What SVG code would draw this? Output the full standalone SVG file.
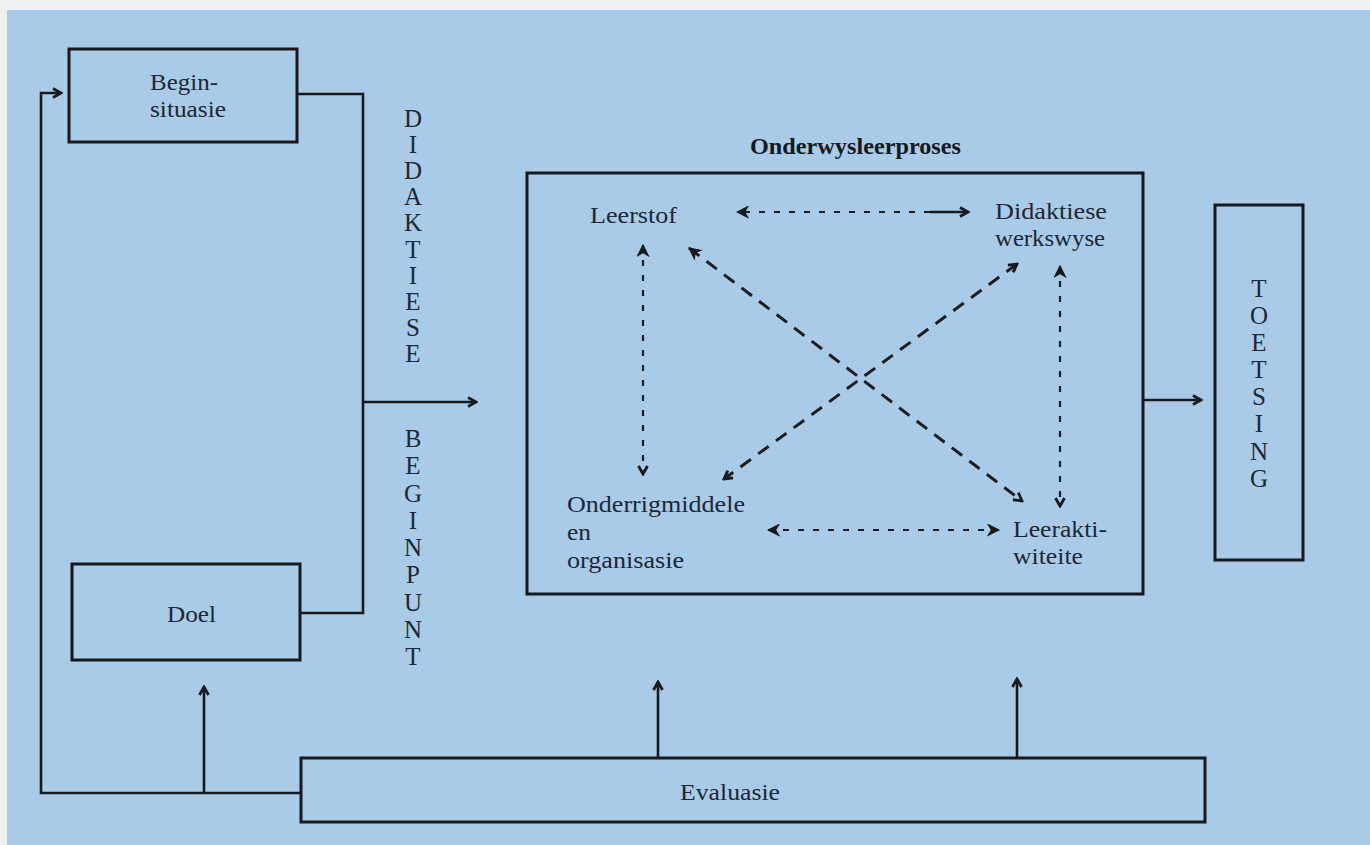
<svg xmlns="http://www.w3.org/2000/svg" width="1370" height="845" viewBox="0 0 1370 845">
<style>
.bg{fill:#a9cbe7}
.box{fill:none;stroke:#16191d;stroke-width:3}
.ln{fill:none;stroke:#16191d;stroke-width:2.6}
.dot{fill:none;stroke:#1a1d22;stroke-width:2.2;stroke-dasharray:6 9}
.dash{fill:none;stroke:#1a1d22;stroke-width:3;stroke-dasharray:13 9}
.t{font-family:"Liberation Serif","Times New Roman",serif;font-size:24px;fill:#1c2836}
.v{font-family:"Liberation Serif","Times New Roman",serif;font-size:25px;fill:#1c2836;text-anchor:middle}
.b{font-family:"Liberation Serif","Times New Roman",serif;font-size:23px;font-weight:bold;fill:#14191f}
</style>
<defs>
<marker id="ah" viewBox="0 0 12 12" refX="10" refY="6" markerWidth="12" markerHeight="12" markerUnits="userSpaceOnUse" orient="auto-start-reverse">
<path d="M2,1.5 L10,6 L2,10.5" fill="none" stroke="#16191d" stroke-width="2.8" stroke-dasharray="none" stroke-linejoin="miter"/>
</marker>
<marker id="fh" viewBox="0 0 12 12" refX="11" refY="6" markerWidth="13" markerHeight="13" markerUnits="userSpaceOnUse" orient="auto-start-reverse">
<path d="M1,1 L11,6 L1,11 L4,6 z" fill="#16191d" stroke="#16191d" stroke-width="1" stroke-dasharray="none"/>
</marker>
</defs>
<rect x="0" y="0" width="1370" height="845" fill="#eef1ef"/>
<rect class="bg" x="7" y="10" width="1363" height="835"/>

<g id="connectors">
<path class="ln" d="M297,94 H363 V613 H300"/>
<path class="ln" d="M363,402 H476" marker-end="url(#ah)"/>
<path class="ln" d="M301,793 H41 V93 H61" marker-end="url(#ah)"/>
<path class="ln" d="M204,793 V687" marker-end="url(#ah)"/>
<path class="ln" d="M658,758 V682" marker-end="url(#ah)"/>
<path class="ln" d="M1017,758 V679" marker-end="url(#ah)"/>
<path class="ln" d="M1143,400 H1201" marker-end="url(#ah)"/>
<path class="dot" d="M930,212 H737" marker-end="url(#fh)"/>
<path class="ln" d="M930,212 H968" marker-end="url(#ah)"/>
<path class="dot" d="M643,245 V474" marker-start="url(#fh)" marker-end="url(#ah)"/>
<path class="dot" d="M1060,266 V506" marker-start="url(#fh)" marker-end="url(#ah)"/>
<path class="dash" d="M689,248 L1022,501" marker-start="url(#fh)" marker-end="url(#ah)"/>
<path class="dash" d="M1017,264 L724,479" marker-start="url(#ah)" marker-end="url(#ah)"/>
<path class="dot" d="M768,530 H999" marker-start="url(#fh)" marker-end="url(#fh)"/>
</g>

<g id="beginsituasie">
<rect class="box" x="69" y="49" width="228" height="93"/>
<text class="t" x="150" y="90" textLength="68" lengthAdjust="spacingAndGlyphs">Begin-</text>
<text class="t" x="150" y="117" textLength="76" lengthAdjust="spacingAndGlyphs">situasie</text>
</g>

<g id="doel">
<rect class="box" x="72" y="564" width="228" height="96"/>
<text class="t" x="167" y="622" textLength="49" lengthAdjust="spacingAndGlyphs">Doel</text>
</g>

<g id="didaktiese-beginpunt">
<text class="v" x="413" y="127">D</text>
<text class="v" x="413" y="153">I</text>
<text class="v" x="413" y="179">D</text>
<text class="v" x="413" y="205">A</text>
<text class="v" x="413" y="231">K</text>
<text class="v" x="413" y="258">T</text>
<text class="v" x="413" y="284">I</text>
<text class="v" x="413" y="310">E</text>
<text class="v" x="413" y="336">S</text>
<text class="v" x="413" y="362">E</text>
<text class="v" x="413" y="447">B</text>
<text class="v" x="413" y="474">E</text>
<text class="v" x="413" y="502">G</text>
<text class="v" x="413" y="529">I</text>
<text class="v" x="413" y="556">N</text>
<text class="v" x="413" y="583">P</text>
<text class="v" x="413" y="611">U</text>
<text class="v" x="413" y="638">N</text>
<text class="v" x="413" y="665">T</text>
</g>

<g id="onderwysleerproses">
<text class="b" x="750" y="154" textLength="211" lengthAdjust="spacingAndGlyphs">Onderwysleerproses</text>
<rect class="box" x="527" y="173" width="616" height="421"/>
</g>

<g id="leerstof">
<text class="t" x="590" y="223" textLength="87" lengthAdjust="spacingAndGlyphs">Leerstof</text>
</g>

<g id="didaktiese-werkswyse">
<text class="t" x="995" y="219" textLength="112" lengthAdjust="spacingAndGlyphs">Didaktiese</text>
<text class="t" x="995" y="246" textLength="110" lengthAdjust="spacingAndGlyphs">werkswyse</text>
</g>

<g id="onderrigmiddele">
<text class="t" x="567" y="512" textLength="178" lengthAdjust="spacingAndGlyphs">Onderrigmiddele</text>
<text class="t" x="567" y="540" textLength="24" lengthAdjust="spacingAndGlyphs">en</text>
<text class="t" x="567" y="568" textLength="117" lengthAdjust="spacingAndGlyphs">organisasie</text>
</g>

<g id="leeraktiwiteite">
<text class="t" x="1013" y="537" textLength="94" lengthAdjust="spacingAndGlyphs">Leerakti-</text>
<text class="t" x="1013" y="564" textLength="70" lengthAdjust="spacingAndGlyphs">witeite</text>
</g>

<g id="toetsing">
<rect class="box" x="1215" y="205" width="88" height="355"/>
<text class="v" x="1259" y="297">T</text>
<text class="v" x="1259" y="324">O</text>
<text class="v" x="1259" y="351">E</text>
<text class="v" x="1259" y="378">T</text>
<text class="v" x="1259" y="405">S</text>
<text class="v" x="1259" y="432">I</text>
<text class="v" x="1259" y="460">N</text>
<text class="v" x="1259" y="487">G</text>
</g>

<g id="evaluasie">
<rect class="box" x="301" y="758" width="904" height="64"/>
<text class="t" x="680" y="800" textLength="100" lengthAdjust="spacingAndGlyphs">Evaluasie</text>
</g>
</svg>
